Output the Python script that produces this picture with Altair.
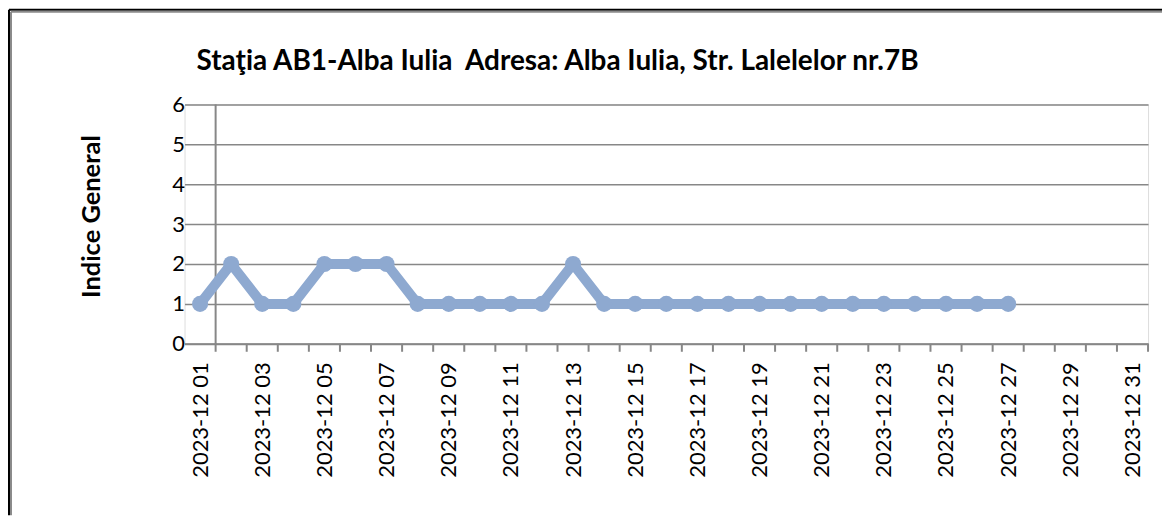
import altair as alt
import pandas as pd

# Category axis: every day of December 2023
dates = ["2023-12 %02d" % d for d in range(1, 32)]
# Observed index values (1 Dec .. 27 Dec)
values = [1, 2, 1, 1, 2, 2, 2, 1, 1, 1, 1, 1, 2,
          1, 1, 1, 1, 1, 1, 1, 1, 1, 1, 1, 1, 1, 1]
y_ticks = [0, 1, 2, 3, 4, 5, 6]
label_days = list(range(1, 32, 2))
boundaries = [d + 0.5 for d in range(1, 32)]

title_text = "Staţia AB1-Alba Iulia\u00a0 Adresa: Alba Iulia, Str. Lalelelor nr.7B"
y_title = "Indice General"

W, H = 966, 240
FONT = "Lato"
GRID = "#878787"
LINE = "#8EA9D0"

df = pd.DataFrame({"day": list(range(1, len(values) + 1)),
                   "date": dates[:len(values)],
                   "value": values})
bdf = pd.DataFrame({"b": boundaries})
tdf = pd.DataFrame({"t": [title_text]})

xscale = alt.Scale(domain=[0.5, 31.5], nice=False, zero=False)
yscale = alt.Scale(domain=[0, 6], nice=False)

line = alt.Chart(df).mark_line(
    color=LINE, strokeWidth=10, strokeJoin="round",
    point=alt.OverlayMarkDef(filled=True, size=260, color=LINE, opacity=1),
).encode(
    x=alt.X("day:Q", scale=xscale,
            axis=alt.Axis(values=label_days, title=None, grid=False, ticks=False,
                          domain=True, domainColor=GRID, domainWidth=2,
                          labelAngle=270, labelFontSize=22, labelFont=FONT,
                          labelColor="#000000", labelPadding=18,
                          labelExpr="'2023-12 ' + (datum.value < 10 ? '0' : '') + datum.value")),
    y=alt.Y("value:Q", scale=yscale,
            axis=alt.Axis(values=y_ticks, title=y_title, grid=True, gridColor=GRID,
                          gridWidth=1.5, domain=False, ticks=False,
                          labelFontSize=22, labelFont=FONT, labelColor="#000000",
                          labelPadding=0, titleFont=FONT, titleFontSize=25.5,
                          titleFontWeight="bold", titleColor="#000000",
                          titlePadding=68, titleY=112)),
)

ticks = alt.Chart(bdf).mark_rule(color=GRID, strokeWidth=2).encode(
    x=alt.X("b:Q", scale=xscale),
    y=alt.value(H), y2=alt.value(H + 8),
)

vaxis = alt.Chart(bdf.head(1)).mark_rule(color=GRID, strokeWidth=2).encode(
    x=alt.X("b:Q", scale=xscale),
    y=alt.value(0), y2=alt.value(H + 1),
)

title = alt.Chart(tdf).mark_text(
    align="left", baseline="middle", font=FONT, fontSize=28,
    fontWeight="bold", color="#000000",
).encode(x=alt.value(12), y=alt.value(-43), text="t:N")

border_left = alt.Chart(bdf.head(1)).mark_rule(color="#000000", strokeWidth=2).encode(
    x=alt.value(-176), y=alt.value(-95), y2=alt.value(H + 172))
border_top = alt.Chart(bdf.head(1)).mark_rule(color="#000000", strokeWidth=2).encode(
    x=alt.value(-176), x2=alt.value(W + 14), y=alt.value(-95))
shade_left = alt.Chart(bdf.head(1)).mark_rule(color="#8a8a8a", strokeWidth=2).encode(
    x=alt.value(-174), y=alt.value(-93), y2=alt.value(H + 172))
shade_top = alt.Chart(bdf.head(1)).mark_rule(color="#8a8a8a", strokeWidth=2).encode(
    x=alt.value(-174), x2=alt.value(W + 14), y=alt.value(-93))

chart = alt.layer(
    vaxis, ticks, line, title, border_left, border_top, shade_left, shade_top
).properties(
    width=W, height=H,
    padding={"left": 0, "top": 0, "right": 0, "bottom": 0},
).configure_view(stroke=None).configure(background="white")

chart.save("out.html", embed_options={"renderer": "svg", "actions": False})
